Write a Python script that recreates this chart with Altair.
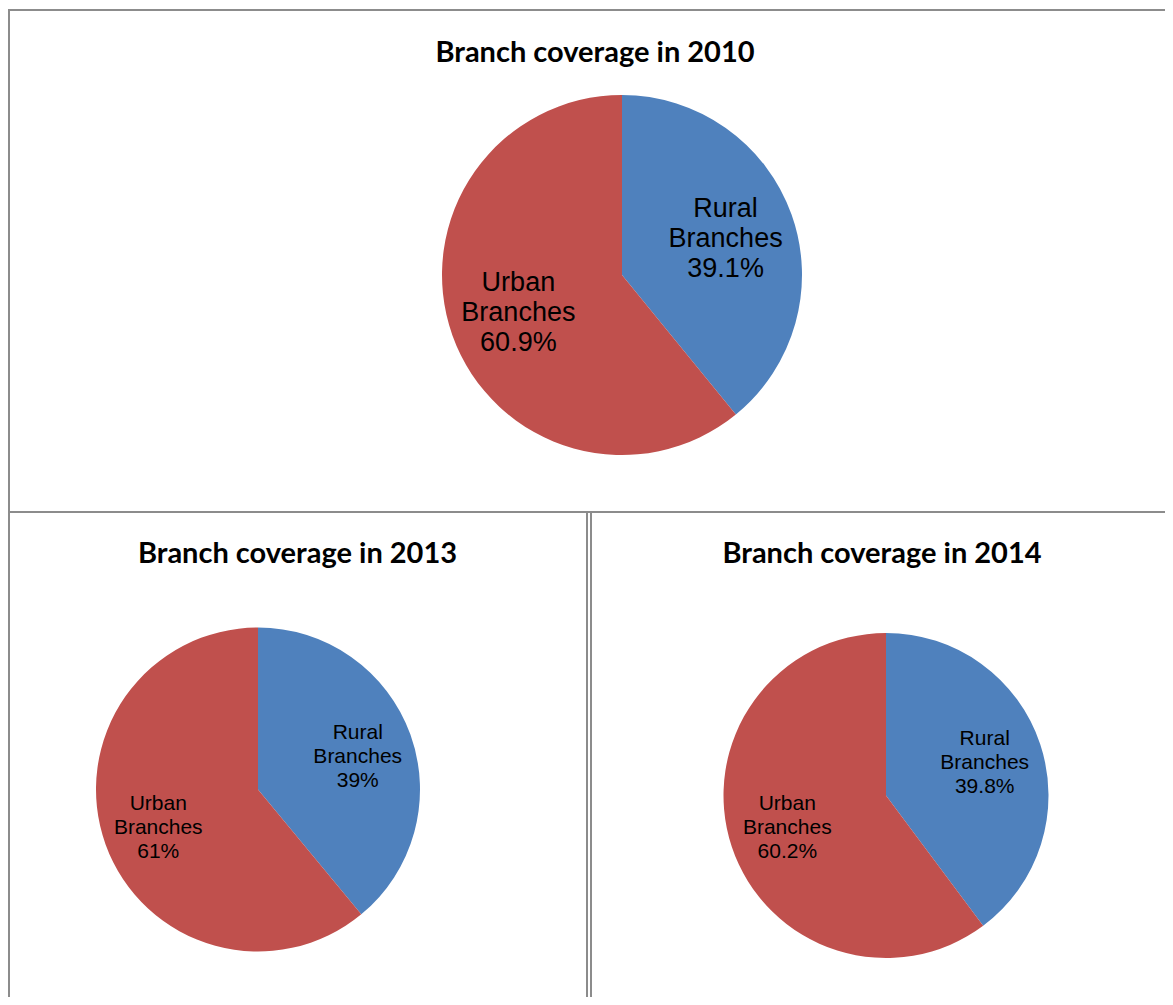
import altair as alt
import pandas as pd

# ---- data ----
categories = ["Rural", "Urban"]
cat_labels = ["Rural\nBranches", "Urban\nBranches"]
values_2010 = [39.1, 60.9]
values_2013 = [39, 61]
values_2014 = [39.8, 60.2]
pct_2010 = ["39.1%", "60.9%"]
pct_2013 = ["39%", "61%"]
pct_2014 = ["39.8%", "60.2%"]
titles = ["Branch coverage in 2010", "Branch coverage in 2013", "Branch coverage in 2014"]

BLUE = "#4F81BD"
RED = "#C0504D"
GRID = "#8c8c8c"

W, H = 1157, 989

color_scale = alt.Scale(domain=categories, range=[BLUE, RED])
one_row = pd.DataFrame({"k": [0]})


def pie(values, pcts, cx, cy, r, label_r, fs, lh, dy):
    df = pd.DataFrame({
        "category": categories,
        "value": values,
        "label": [f"{a}\n{b}" for a, b in zip(cat_labels, pcts)],
    })
    base = alt.Chart(df)
    arc = base.mark_arc(outerRadius=r, stroke=None).encode(
        theta=alt.Theta("value:Q", stack=True),
        color=alt.Color("category:N", scale=color_scale, legend=None),
        x=alt.value(cx),
        y=alt.value(cy),
    )
    txt = base.mark_text(
        radius=label_r, font="Liberation Sans", fontSize=fs, lineHeight=lh,
        lineBreak="\n", align="center", baseline="middle", color="#000000",
        dy=dy,
    ).encode(
        theta=alt.Theta("value:Q", stack=True),
        detail="category:N",
        text="label:N",
        x=alt.value(cx),
        y=alt.value(cy),
    )
    return arc + txt


def title(t, x, y):
    return alt.Chart(one_row).mark_text(
        font="Lato", fontWeight="bold", fontSize=29, align="center",
        baseline="alphabetic", color="#000000",
    ).encode(text=alt.value(t), x=alt.value(x), y=alt.value(y))


def hline(y, x1, x2):
    return alt.Chart(one_row).mark_rule(color=GRID, strokeWidth=2).encode(
        x=alt.value(x1), x2=alt.value(x2), y=alt.value(y))


def vline(x, y1, y2):
    return alt.Chart(one_row).mark_rule(color=GRID, strokeWidth=2).encode(
        x=alt.value(x), y=alt.value(y1), y2=alt.value(y2))


layers = [
    hline(2, 0, W),
    hline(504, 0, W),
    vline(1, 2, H),
    vline(579, 504, H),
    vline(583, 504, H),
    pie(values_2010, pct_2010, 614, 267, 180, 110, 27, 30, -29),
    pie(values_2013, pct_2013, 250, 781.5, 162, 106, 21, 24, -21),
    pie(values_2014, pct_2014, 878, 787.5, 162.5, 104, 21, 24, -24),
    title(titles[0], 587, 54),
    title(titles[1], 289.5, 555),
    title(titles[2], 874, 555),
]

chart = alt.layer(*layers).properties(
    width=W, height=H, padding=0, autosize="none", background="white"
).configure_view(stroke=None)

chart.save("out.html", embed_options={"renderer": "svg", "actions": False})
